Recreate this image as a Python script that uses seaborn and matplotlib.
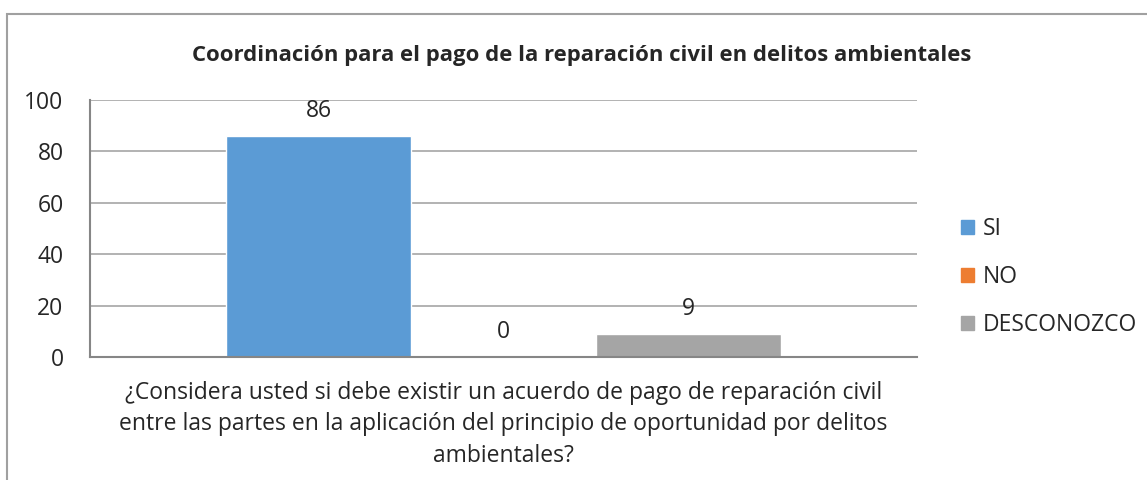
import matplotlib.pyplot as plt
import matplotlib.patches as mpatches
import pandas as pd
import seaborn as sns

# data
question = ("¿Considera usted si debe existir un acuerdo de pago de reparación civil\n"
            "entre las partes en la aplicación del principio de oportunidad por delitos\n"
            "ambientales?")
series = ["SI", "NO", "DESCONOZCO"]
values = [86, 0, 9]
colors = ["#5B9BD5", "#ED7D31", "#A5A5A5"]
title = "Coordinación para el pago de la reparación civil en delitos ambientales"

df = pd.DataFrame({"pregunta": [question] * len(series), "respuesta": series, "valor": values})

sns.set_style("white")
plt.rcParams["font.family"] = ["Open Sans", "DejaVu Sans"]
fs = 16.5

W, H = 1147, 480
fig = plt.figure(figsize=(W / 100, H / 100), dpi=100)
# plot area in pixels: left 90, right 917, top 100, bottom 357
ax = fig.add_axes([90 / W, 1 - 357 / H, (917 - 90) / W, (357 - 100) / H])

sns.barplot(data=df, x="pregunta", y="valor", hue="respuesta", palette=colors,
            width=555 / 827, ax=ax, saturation=1, legend=True)

ax.set_ylim(0, 100)
ax.set_xlim(-0.5, 0.5)
ax.set_yticks(range(0, 101, 20))
ax.yaxis.grid(True, color="#A6A6A6", linewidth=1.2)
ax.set_axisbelow(True)
for s in ["top", "right"]:
    ax.spines[s].set_visible(False)
for s in ["left", "bottom"]:
    ax.spines[s].set_color("#868686")
    ax.spines[s].set_linewidth(1.5)
ax.tick_params(axis="y", length=0, labelsize=fs, pad=19)
ax.tick_params(axis="x", length=0, labelsize=fs, pad=17)
ax.set_xlabel("")
ax.set_ylabel("")
for lbl in ax.get_xticklabels():
    lbl.set_multialignment("center")
    lbl.set_linespacing(1.43)

# data labels
for cont in ax.containers:
    ax.bar_label(cont, fmt="%g", fontsize=fs, padding=9)

# legend
handles = [mpatches.Patch(color=c) for c in colors]
ax.legend(handles, series, loc="center left", bbox_to_anchor=(940 / W, 1 - 277 / H),
          bbox_transform=fig.transFigure, frameon=False, fontsize=fs,
          handlelength=0.6, handleheight=0.6, handletextpad=0.35, labelspacing=1.05)

fig.text(582 / W, 1 - 55 / H, title, ha="center", va="center", fontsize=15.9,
         fontweight="bold")

# chart border (cropped at right and bottom)
fig.patches.append(mpatches.Rectangle((7 / W, -0.1), 1.2, 1.1 - 14 / H,
                                      transform=fig.transFigure, fill=False,
                                      edgecolor="#A0A0A0", linewidth=1.5))

fig.savefig("out.png", dpi=100)
